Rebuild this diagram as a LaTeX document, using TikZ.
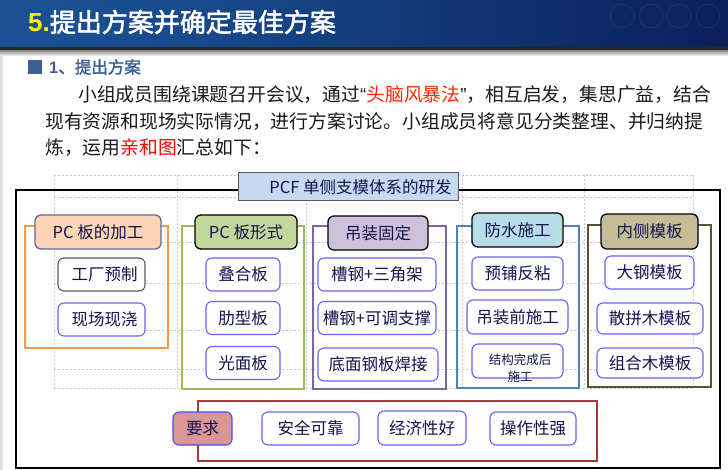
\documentclass[tikz,border=0pt]{standalone}
\usepackage{fontspec}
\setmainfont{Noto Sans CJK SC}
\newfontfamily\cjkb[FakeBold=2]{Noto Sans CJK SC}
\newfontfamily\latf{Liberation Sans}
\definecolor{tbA}{HTML}{2464A8}
\definecolor{tbB}{HTML}{17488A}
\definecolor{tbC}{HTML}{0B1F5A}
\definecolor{hblue}{HTML}{3D5F94}
\definecolor{txt}{HTML}{1A1A1A}
\definecolor{btxt}{HTML}{14144E}
\definecolor{itemblue}{HTML}{6464F0}
\definecolor{redtxt}{HTML}{FF2A00}
\definecolor{c1}{HTML}{F79646}
\definecolor{c1f}{HTML}{FCD5B4}
\definecolor{c2}{HTML}{9BBB59}
\definecolor{c2f}{HTML}{C3D69B}
\definecolor{c3}{HTML}{8064A2}
\definecolor{c3f}{HTML}{CCC0DA}
\definecolor{c4}{HTML}{4F81BD}
\definecolor{c4f}{HTML}{B7DDE8}
\definecolor{c5}{HTML}{5A5332}
\definecolor{c5f}{HTML}{C4BD97}
\definecolor{c6}{HTML}{A03C3A}
\definecolor{c6f}{HTML}{D99694}
\definecolor{ttf}{HTML}{C6D9F1}
\pgfdeclarehorizontalshading{tbar}{100bp}{color(0bp)=(tbA); color(40bp)=(tbB); color(75bp)=(tbC); color(100bp)=(tbC)}
\tikzset{
  hdr/.style={draw, line width=1.3pt, rounded corners=6pt, text=btxt, font=\fontsize{16.5}{18}\selectfont, inner sep=0pt},
  itm/.style={draw=itemblue, line width=1.1pt, rounded corners=6pt, text=btxt, fill=white, font=\fontsize{16.5}{18}\selectfont, inner sep=0pt},
  brk/.style={line width=2pt},
  gridln/.style={draw=black!22, line width=0.5pt, dash pattern=on 2pt off 2pt},
  para/.style={anchor=west, inner sep=0pt, text=txt, font=\fontsize{18.8}{20}\selectfont}
}
\begin{document}
\begin{tikzpicture}[x=1pt,y=-1pt]
\useasboundingbox (0,0) rectangle (728,470);
\fill[white] (0,0) rectangle (728,470);
% title bar
\shade[shading=tbar] (0,1) rectangle (728,48);
\foreach \cx in {622,651,679,708}{
  \draw[white, opacity=0.07, line width=0.8pt] (\cx,16) circle (12);
}
\fill[black!85] (0,47) rectangle (728,50.5);
\shade[top color=black!45, bottom color=white] (0,50.5) rectangle (728,56);
\fill[black!12] (0,56) rectangle (2.5,470);
\node[anchor=west, inner sep=0pt] (title) at (28,22) {{\latf\bfseries\fontsize{26}{28}\selectfont\color{yellow}5.}{\cjkb\fontsize{26}{28}\selectfont\color{white}提出方案并确定最佳方案}};
% heading
\fill[hblue] (28,60) rectangle (42,74);
\node[anchor=west, inner sep=0pt, text=hblue] (head) at (49,67) {{\latf\bfseries\fontsize{16.5}{18}\selectfont 1}{\cjkb\fontsize{16.5}{18}\selectfont 、提出方案}};
% paragraph
\node[para] (p1) at (78,95) {小组成员围绕课题召开会议，通过{\latf “}{\color{redtxt}头脑风暴法}{\latf ”}，相互启发，集思广益，结合};
\node[para] (p2) at (45,122) {现有资源和现场实际情况，进行方案讨论。小组成员将意见分类整理、并归纳提};
\node[para] (p3) at (45,148) {炼，运用{\color{red}亲和图}汇总如下：};
% dashed grid
\foreach \gx in {54,177,306,462,584,693}{
  \draw[gridln] (\gx,175) -- (\gx,388);
}
\foreach \gy in {175,197,242,283,330,369,388}{
  \draw[gridln] (54,\gy) -- (693,\gy);
}
% outer frame
\draw[line width=2pt, line join=miter] (16,190) rectangle (720,468);
\node[draw=black!65, fill=ttf, line width=1pt, minimum width=220pt, minimum height=28pt, inner sep=0pt, text=btxt, font=\fontsize{16.5}{18}\selectfont] (tt) at (348,187) {\hspace*{25pt}PCF 单侧支模体系的研发};
% column 1
\draw[brk, draw=c1] (25,226) rectangle (168,348);
\node[hdr, draw=black!70!blue!60, fill=c1f, minimum width=126pt, minimum height=34pt] (h1) at (98,232) {PC 板的加工};
\node[itm, draw=black!65, minimum width=87pt, minimum height=33pt] (a1) at (101.5,274.5) {\hspace*{6pt}工厂预制};
\node[itm, minimum width=87pt, minimum height=33pt] (a2) at (101.5,319.5) {\hspace*{6pt}现场现浇};
% column 2
\draw[brk, draw=c2] (182,226) rectangle (304,389);
\node[hdr, fill=c2f, minimum width=102pt, minimum height=34pt] (h2) at (246,232) {PC 板形式};
\node[itm, minimum width=74pt, minimum height=33pt] (b1) at (243,274.5) {叠合板};
\node[itm, minimum width=74pt, minimum height=33pt] (b2) at (243,318) {肋型板};
\node[itm, minimum width=74pt, minimum height=33pt] (b3) at (243,363) {光面板};
% column 3
\draw[brk, draw=c3] (313,226) rectangle (446,389);
\node[hdr, fill=c3f, minimum width=100pt, minimum height=34pt] (h3) at (378,233) {吊装固定};
\node[itm, minimum width=118pt, minimum height=33pt] (d1) at (377,274.5) {槽钢+三角架};
\node[itm, minimum width=118pt, minimum height=33pt] (d2) at (377,318) {槽钢+可调支撑};
\node[itm, minimum width=120pt, minimum height=33pt] (d3) at (378,364.5) {底面钢板焊接};
% column 4
\draw[brk, draw=c4] (457,226) rectangle (579,388);
\node[hdr, fill=c4f, minimum width=91pt, minimum height=34pt] (h4) at (517.5,230) {防水施工};
\node[itm, minimum width=91pt, minimum height=33pt] (e1) at (517.5,273.5) {预铺反粘};
\node[itm, minimum width=101pt, minimum height=34pt] (e2) at (517.5,317) {吊装前施工};
\node[itm, minimum width=91pt, minimum height=34pt] (e3) at (517.5,361) {};
\node[inner sep=0pt, align=center, text=btxt, font=\fontsize{12.5}{17}\selectfont] (e3t) at (520,368.5) {结构完成后\\施工};
% column 5
\draw[brk, draw=c5] (588,225) rectangle (711,387);
\node[hdr, fill=c5f, minimum width=97pt, minimum height=35pt] (h5) at (649.5,231.5) {内侧模板};
\node[itm, minimum width=89pt, minimum height=33pt] (f1) at (649.5,272.5) {大钢模板};
\node[itm, minimum width=106pt, minimum height=31pt] (f2) at (650,318.5) {散拼木模板};
\node[itm, minimum width=106pt, minimum height=30pt] (f3) at (650,363) {组合木模板};
% requirements
\draw[brk, draw=c6] (198,401) rectangle (597,461);
\node[itm, draw=blue!70, fill=c6f, minimum width=59pt, minimum height=33pt] (req) at (202.5,428.5) {要求};
\node[itm, minimum width=97pt, minimum height=33pt] (r1) at (310.5,428.5) {安全可靠};
\node[itm, minimum width=88pt, minimum height=34pt] (r2) at (422,428) {经济性好};
\node[itm, minimum width=86pt, minimum height=33pt] (r3) at (533,428.5) {操作性强};
\end{tikzpicture}
\end{document}
